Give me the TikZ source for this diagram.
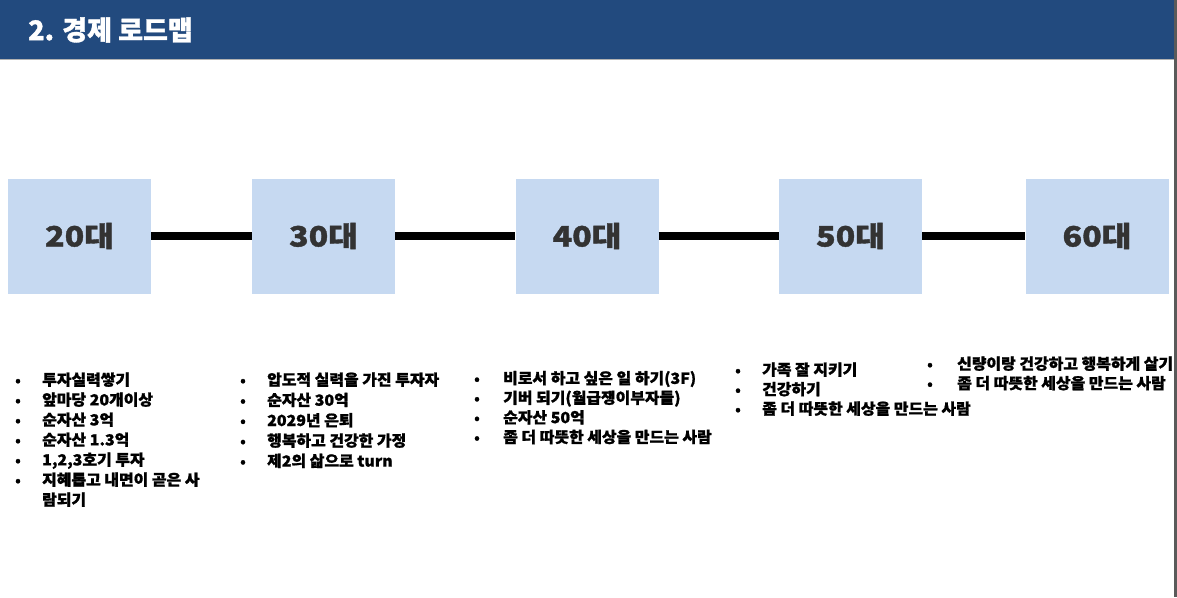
\documentclass[tikz,border=0pt]{standalone}
\usepackage{fontspec}
\newfontfamily\kr{Noto Sans CJK KR}[BoldFeatures={FakeBold=1.2}]
\newfontfamily\kritem{Noto Sans CJK KR}[FakeStretch=1.04, BoldFeatures={FakeBold=1.2}]
\newfontfamily\krlabel{Noto Sans CJK KR}[FakeStretch=1.15, BoldFeatures={FakeBold=1.4}]
\definecolor{hdrblue}{HTML}{224A7E}
\definecolor{boxblue}{HTML}{C6D9F1}
\definecolor{labelgray}{HTML}{333333}
\definecolor{edgegray}{HTML}{5A5A5A}
\tikzset{
  agebox/.style={fill=boxblue, draw=none, minimum width=143pt, minimum height=115pt, inner sep=0pt,
    font=\krlabel\bfseries\fontsize{28}{30}\selectfont, text=labelgray},
  conn/.style={line width=7.5pt, black},
  titletext/.style={anchor=west, inner sep=0pt, text=white, font=\kr\bfseries\fontsize{27}{30}\selectfont},
  item/.style={anchor=base west, inner sep=0pt, font=\kritem\bfseries\fontsize{15.3}{18}\selectfont},
  dot/.style={anchor=base, inner sep=0pt, font=\kr\bfseries\fontsize{14}{16}\selectfont}
}
\begin{document}
\begin{tikzpicture}[x=1pt,y=-1pt]
\useasboundingbox (0,0) rectangle (1177,597);
\clip (0,0) rectangle (1177,597);
\fill[white] (0,0) rectangle (1177,597);
% header
\fill[hdrblue] (0,0) rectangle (1174,59);
\draw[gray!60, line width=1pt] (0,59.5) -- (1174,59.5);
\node[titletext] (title) at (28,30) {2. 경제 로드맵};
% boxes
\node[agebox] (b20) at (79.5,236) {20대};
\node[agebox] (b30) at (323.5,236) {30대};
\node[agebox] (b40) at (587,236) {40대};
\node[agebox] (b50) at (850.5,236) {50대};
\node[agebox] (b60) at (1097,236) {60대};
% connectors
\draw[conn] (b20.east) -- (b30.west);
\draw[conn] (b30.east) -- (b40.west);
\draw[conn] (b40.east) -- (b50.west);
\draw[conn] (b50.east) -- (b60.west);
% column 1
\foreach \t [count=\i] in {투자실력쌓기, 앞마당 20개이상, 순자산 3억, 순자산 1.3억, {1,2,3호기 투자}, 지혜롭고 내면이 곧은 사}{
  \node[dot] (da\i) at (18,{380+20*(\i-1)+5.4}) {•};
  \node[item] (ta\i) at (42,{380+20*(\i-1)+5.4}) {\t};
}
\node[item] (ta7) at (42,505.4) {람되기};
% column 2
\foreach \t [count=\i] in {압도적 실력을 가진 투자자, 순자산 30억, 2029년 은퇴, 행복하고 건강한 가정, 제2의 삶으로 turn}{
  \node[dot] (db\i) at (243,{380+20.3*(\i-1)+5.4}) {•};
  \node[item] (tb\i) at (267,{380+20.3*(\i-1)+5.4}) {\t};
}
% column 3
\foreach \t [count=\i] in {비로서 하고 싶은 일 하기(3F), 기버 되기(월급쟁이부자들), 순자산 50억, 좀 더 따뜻한 세상을 만드는 사람}{
  \node[dot] (dc\i) at (477,{378.5+19.6*(\i-1)+5.4}) {•};
  \node[item] (tc\i) at (503,{378.5+19.6*(\i-1)+5.4}) {\t};
}
% column 4
\foreach \t [count=\i] in {가족 잘 지키기, 건강하기, 좀 더 따뜻한 세상을 만드는 사람}{
  \node[dot] (dd\i) at (738,{370+19.5*(\i-1)+5.4}) {•};
  \node[item] (td\i) at (762,{370+19.5*(\i-1)+5.4}) {\t};
}
% column 5
\foreach \t [count=\i] in {신량이랑 건강하고 행복하게 살기, 좀 더 따뜻한 세상을 만드는 사람}{
  \node[dot] (de\i) at (930,{364+19.5*(\i-1)+5.4}) {•};
  \node[item] (te\i) at (957,{364+19.5*(\i-1)+5.4}) {\t};
}
% right edge bar
\fill[edgegray] (1174,0) rectangle (1177,597);
\end{tikzpicture}
\end{document}
